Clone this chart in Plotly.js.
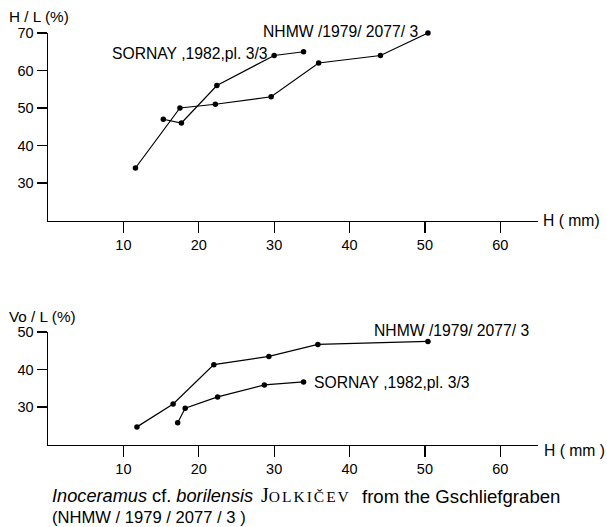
<!DOCTYPE html>
<html><head><meta charset="utf-8">
<script src="https://cdn.plot.ly/plotly-3.0.1.min.js"></script>
<style>body{margin:0;background:#fff}#c{width:607px;height:527px}</style>
</head><body><div id="c"></div>
<script>
// Top chart: H/L (%) vs H (mm)
const hlNhmwH = [11.6, 17.5, 22.2, 29.6, 35.9, 44.1, 50.4];
const hlNhmwV = [34, 50, 51, 53, 62, 64, 70];
const hlSornayH = [15.3, 17.7, 22.4, 30.0, 33.9];
const hlSornayV = [47, 46, 56, 64, 65];
// Bottom chart: Vo/L (%) vs H (mm)
const voNhmwH = [11.8, 16.6, 22.0, 29.3, 35.8, 50.4];
const voNhmwV = [24.7, 30.8, 41.3, 43.5, 46.7, 47.5];
const voSornayH = [17.2, 18.2, 22.5, 28.7, 33.9];
const voSornayV = [25.8, 29.7, 32.7, 35.9, 36.7];
const xTicks = [10, 20, 30, 40, 50, 60];
const topYTicks = [30, 40, 50, 60, 70];
const botYTicks = [30, 40, 50];
const labelNhmw = "NHMW /1979/ 2077/ 3";
const labelSornay = "SORNAY ,1982,pl. 3/3";

const W = 607, H = 527;
const px = x => x / W, py = y => 1 - y / H;
const FONT = "Liberation Sans, Arial, sans-serif";
const SERIF = "Liberation Serif, Times New Roman, serif";

const line = {color: '#000', width: 1.2};
const marker = {color: '#000', size: 5.5};
function tr(x, y, xa, ya) {
  return {x: x, y: y, xaxis: xa, yaxis: ya, mode: 'lines+markers', line: line, marker: marker,
    cliponaxis: false, hoverinfo: 'none', showlegend: false};
}
const data = [
  tr(hlNhmwH, hlNhmwV, 'x', 'y'),
  tr(hlSornayH, hlSornayV, 'x', 'y'),
  tr(voNhmwH, voNhmwV, 'x2', 'y2'),
  tr(voSornayH, voSornayV, 'x2', 'y2')
];

function xax(anchor, domain) {
  return {range: [0, 65], domain: domain, anchor: anchor, tickvals: xTicks, ticks: 'outside', ticklen: 11, tickwidth: 1.2,
    tickcolor: '#000', showline: true, linecolor: '#000', linewidth: 1.5, showgrid: false, zeroline: false,
    tickfont: {family: FONT, size: 14.5, color: '#000'}, fixedrange: true};
}
function yax(anchor, domain, range, tv) {
  return {range: range, domain: domain, anchor: anchor, tickvals: tv, ticks: 'outside', ticklen: 10, tickwidth: 1.2,
    tickcolor: '#000', showline: true, linecolor: '#000', linewidth: 1.5, showgrid: false, zeroline: false,
    tickfont: {family: FONT, size: 14.5, color: '#000'}, fixedrange: true};
}
const xdom = [px(48), px(538)];
function ann(text, x, y, xanchor, size, family) {
  return {text: text, xref: 'paper', yref: 'paper', x: px(x), y: py(y), xanchor: xanchor, yanchor: 'middle',
    showarrow: false, borderpad: 0, font: {size: size || 15.7, family: family || FONT}};
}
const layout = {
  width: W, height: H, margin: {l: 0, r: 0, t: 0, b: 0},
  paper_bgcolor: '#fff', plot_bgcolor: '#fff', showlegend: false,
  font: {family: FONT, color: '#000'},
  xaxis: xax('y', xdom),
  yaxis: yax('x', [py(220.5), py(33)], [20, 70], topYTicks),
  xaxis2: xax('y2', xdom),
  yaxis2: yax('x2', [py(444.5), py(332)], [20, 50], botYTicks),
  annotations: [
    ann('H / L (%)', 8, 17, 'left', 15.3),
    ann('H ( mm)', 542, 220, 'left'),
    ann(labelNhmw, 419, 31, 'right'),
    ann(labelSornay, 269, 53, 'right'),
    ann('Vo / L (%)', 8, 316, 'left', 15.3),
    ann('H ( mm )', 543, 450, 'left'),
    ann(labelNhmw, 373, 330, 'left'),
    ann(labelSornay, 313, 382, 'left'),
    ann('<i>Inoceramus</i> cf. <i>borilensis</i>', 51, 496, 'left', 18.2),
    ann('J<span style="font-size:15.5px;letter-spacing:2px">OLKIČEV</span>', 260, 495, 'left', 20, SERIF),
    ann('from the Gschliefgraben', 361, 496, 'left', 18.6),
    ann('(NHMW / 1979 / 2077 / 3 )', 51, 517, 'left', 16.6)
  ]
};
Plotly.newPlot('c', data, layout, {staticPlot: true, displayModeBar: false});
</script></body></html>
